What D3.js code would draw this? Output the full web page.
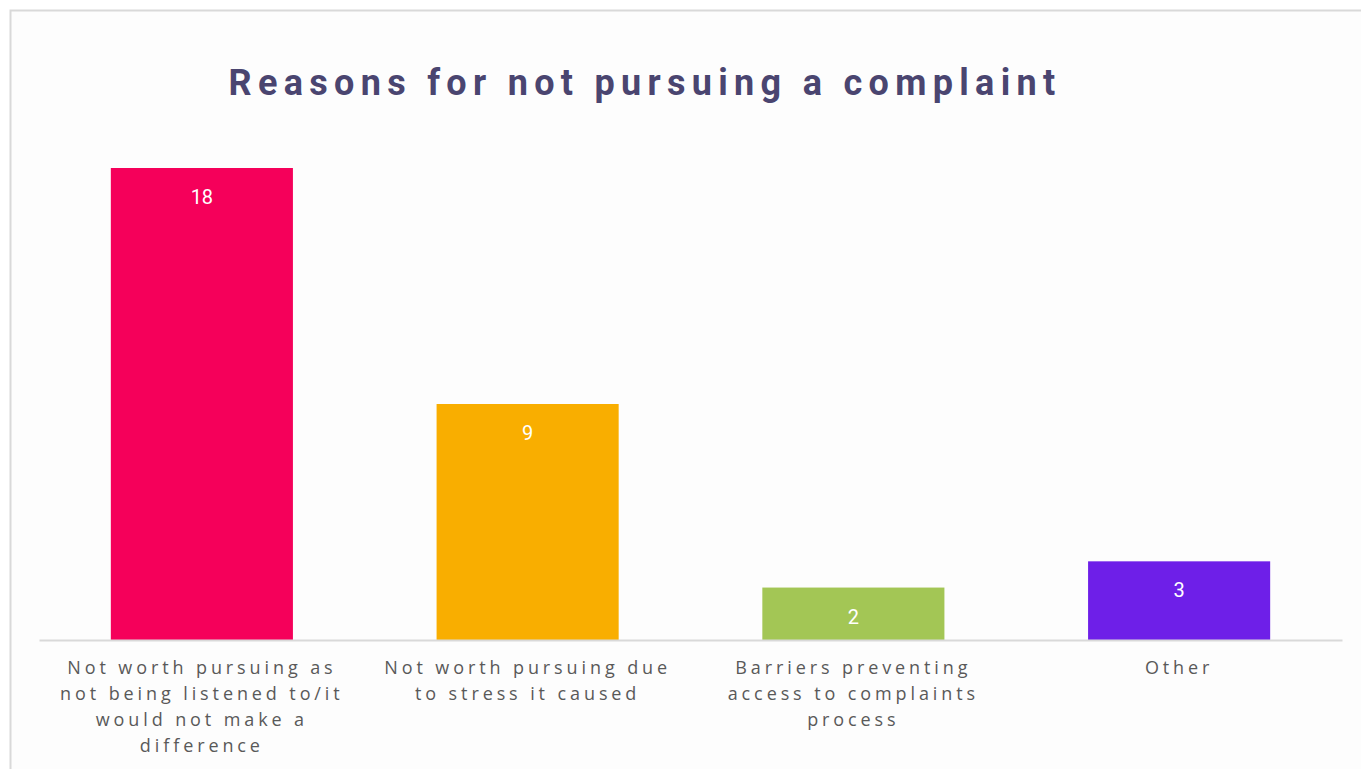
<!DOCTYPE html>
<html>
<head>
<meta charset="utf-8">
<script src="https://cdn.jsdelivr.net/npm/d3@7"></script>
<style>
  html, body { margin: 0; padding: 0; background: #ffffff; }
  svg { display: block; }
</style>
</head>
<body>
<svg id="chart" width="1361" height="769"></svg>
<script>
// Survey responses: reasons given for not pursuing a complaint
const categories = [
  "Not worth pursuing as not being listened to/it would not make a difference",
  "Not worth pursuing due to stress it caused",
  "Barriers preventing access to complaints process",
  "Other"
];
const categoryLines = [
  ["Not worth pursuing as", "not being listened to/it", "would not make a", "difference"],
  ["Not worth pursuing due", "to stress it caused"],
  ["Barriers preventing", "access to complaints", "process"],
  ["Other"]
];
const counts = [18, 9, 2, 3];
const barColors = ["#f5005a", "#f9ae00", "#a3c655", "#6e1fe8"];
const title = "Reasons for not pursuing a complaint";

const svg = d3.select("#chart");
const W = 1361, H = 769;

// frame
svg.append("rect")
  .attr("x", 10.5).attr("y", 10.5)
  .attr("width", W + 20).attr("height", H + 20)
  .attr("fill", "#fdfdfd")
  .attr("stroke", "#d9d9d9").attr("stroke-width", 2);

const plot = { left: 39, right: 1342, baseline: 640 };

const x = d3.scaleBand()
  .domain(categories)
  .range([plot.left, plot.right])
  .paddingInner(0.441)
  .paddingOuter(0.2205);

const y = d3.scaleLinear()
  .domain([0, 18])
  .range([plot.baseline, 168]);

// title
svg.append("text")
  .attr("x", 645).attr("y", 95)
  .attr("text-anchor", "middle")
  .attr("font-family", "Roboto, 'Liberation Sans', sans-serif")
  .attr("font-weight", 700)
  .attr("font-size", 36)
  .attr("letter-spacing", "6.3px")
  .attr("fill", "#4a4570")
  .text(title);

// bars
svg.append("g").selectAll("rect")
  .data(counts)
  .join("rect")
  .attr("x", (d, i) => x(categories[i]))
  .attr("y", d => y(d))
  .attr("width", x.bandwidth())
  .attr("height", d => y(0) - y(d))
  .attr("fill", (d, i) => barColors[i]);

// value labels inside the top of each bar
svg.append("g").selectAll("text")
  .data(counts)
  .join("text")
  .attr("x", (d, i) => x(categories[i]) + x.bandwidth() / 2)
  .attr("y", d => y(d) + 36)
  .attr("text-anchor", "middle")
  .attr("font-family", "Roboto, 'Liberation Sans', sans-serif")
  .attr("font-size", 20)
  .attr("fill", "#ffffff")
  .text(d => d);

// baseline axis
const axis = svg.append("g")
  .attr("transform", `translate(0,${plot.baseline})`)
  .call(d3.axisBottom(x).tickSize(0).tickFormat(""));
axis.select(".domain").attr("stroke", "#d9d9d9").attr("stroke-width", 2);

// category labels
const labels = svg.append("g").selectAll("text")
  .data(categories)
  .join("text")
  .attr("text-anchor", "middle")
  .attr("font-family", "'Open Sans', sans-serif")
  .attr("font-size", 18)
  .attr("letter-spacing", "3.9px")
  .attr("fill", "#595959");

labels.each(function(d, i) {
  const t = d3.select(this);
  categoryLines[i].forEach((line, k) => {
    t.append("tspan")
      .attr("x", x(d) + x.bandwidth() / 2)
      .attr("y", 674 + k * 26)
      .text(line);
  });
});
</script>
</body>
</html>
